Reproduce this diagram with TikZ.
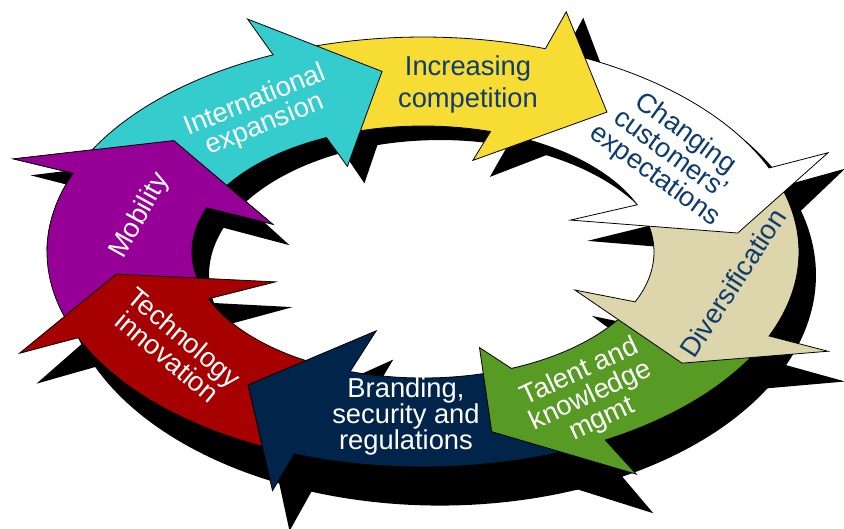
\documentclass[tikz,border=0pt]{standalone}
\usepackage{fontspec}
\setmainfont{Liberation Sans}
\usepackage{xcolor}
\usepackage{tikz}

\definecolor{intcyan}{RGB}{52,204,204}
\definecolor{compyellow}{RGB}{247,220,52}
\definecolor{divtan}{RGB}{221,214,172}
\definecolor{talentgreen}{RGB}{87,155,37}
\definecolor{brandnavy}{RGB}{0,36,74}
\definecolor{techred}{RGB}{166,0,0}
\definecolor{mobpurple}{RGB}{150,0,150}
\definecolor{labelnavy}{RGB}{14,60,110}

% one bent arrow of the ring: tail out/head out/head in/tip angle/tip band/inner barb angle/inner barb band/tail in
\newcommand{\ringarrow}[8]{plot[domain=#1:#2,samples=30] (\x:376 and 215) -- (#2:440 and 254) -- (#4:{231+145*(#5)} and {126+89*(#5)}) -- (#6:{231+145*(#7)} and {126+89*(#7)}) -- (#3:231 and 126) -- plot[domain=#3:#8,samples=30] (\x:231 and 126) -- cycle}

\begin{document}
\begin{tikzpicture}[x=0.75pt, y=-0.75pt,
  arrowline/.style={draw=black, line width=0.6pt},
  lbl/.style={align=center, inner sep=0pt, font=\fontsize{20.5}{19.5}\selectfont}]
\useasboundingbox (0,0) rectangle (844,529);

% shadows
\begin{scope}[shift={(440,275.1)}, yscale=1.072]
\foreach \ta/\tb/\tc/\td/\te/\tf/\tg/\th/\col in {
  160.5/201.5/200.5/218.4/0.6/199.8/-0.49/162/mobpurple,
  114/156.5/158.2/172.7/0.54/158.5/-0.5/112.4/techred,
  65/110/108.4/126.4/0.44/107/-0.49/71.5/brandnavy,
  27/61/67.5/77.8/0.65/72.6/-0.29/27.3/talentgreen,
  -19/23/23.3/37.2/0.65/25.7/-0.43/-18/divtan,
  -67/-23/-22/-6.1/0.59/-22.8/-0.49/-69/white,
  -109.5/-71/-73/-53.5/0.54/-74/-0.345/-110.7/compyellow,
  -154.5/-113.5/-114.7/-97.3/0.63/-114.9/-0.355/-155.5/intcyan}
  \fill[black] \ringarrow{\ta}{\tb}{\tc}{\td}{\te}{\tf}{\tg}{\th};
\end{scope}

% arrows
\begin{scope}[shift={(423,252)}]
\foreach \ta/\tb/\tc/\td/\te/\tf/\tg/\th/\col in {
  160.5/201.5/200.5/218.4/0.6/199.8/-0.49/162/mobpurple,
  114/156.5/158.2/172.7/0.54/158.5/-0.5/112.4/techred,
  65/110/108.4/126.4/0.44/107/-0.49/71.5/brandnavy,
  27/61/67.5/77.8/0.65/72.6/-0.29/27.3/talentgreen,
  -19/23/23.3/37.2/0.65/25.7/-0.43/-18/divtan,
  -67/-23/-22/-6.1/0.59/-22.8/-0.49/-69/white,
  -109.5/-71/-73/-53.5/0.54/-74/-0.345/-110.7/compyellow,
  -154.5/-113.5/-114.7/-97.3/0.63/-114.9/-0.355/-155.5/intcyan}
  \filldraw[arrowline, fill=\col] \ringarrow{\ta}{\tb}{\tc}{\td}{\te}{\tf}{\tg}{\th};
\end{scope}

% purple head once more, over the cyan tail
\begin{scope}
\clip (0,100) rectangle (300,250);
\filldraw[arrowline, fill=mobpurple, shift={(423,252)}] \ringarrow{160.5}{201.5}{200.5}{218.4}{0.6}{199.8}{-0.49}{162};
\end{scope}

\node[lbl, text=white, rotate=22] (intl) at (260,113) {International\\expansion};
\node[lbl, text=labelnavy, font=\fontsize{20.5}{24}\selectfont] (comp) at (468,84) {Increasing\\competition};
\node[lbl, text=labelnavy, rotate=-36] (cust) at (670,155) {Changing\\customers'\\expectations};
\node[lbl, text=labelnavy, rotate=57] (divers) at (733,283) {Diversification};
\node[lbl, text=white, rotate=25] (talent) at (591,396) {Talent and\\knowledge\\mgmt};
\node[lbl, text=white] (brand) at (406,416) {Branding,\\security and\\regulations};
\node[lbl, text=white, rotate=-40] (tech) at (176,347) {Technology\\innovation};
\node[lbl, text=white, rotate=61] (mob) at (140,216) {Mobility};
\end{tikzpicture}
\end{document}
